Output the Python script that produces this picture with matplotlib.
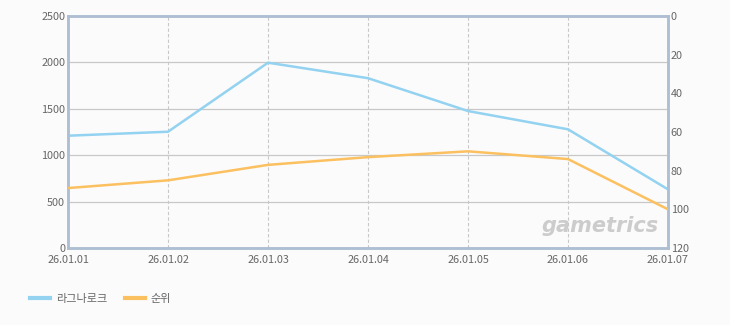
import matplotlib
matplotlib.use("Agg")
import matplotlib.pyplot as plt
from matplotlib.lines import Line2D

plt.rcParams['font.family'] = ['Noto Sans CJK KR', 'DejaVu Sans']

dates = ["26.01.01", "26.01.02", "26.01.03", "26.01.04", "26.01.05", "26.01.06", "26.01.07"]
users = [1210, 1253, 1997, 1830, 1476, 1279, 632]
rank = [89, 85, 77, 73, 70, 74, 100]
left_ticks = [0, 500, 1000, 1500, 2000, 2500]
right_ticks = [0, 20, 40, 60, 80, 100, 120]
series_names = ["라그나로크", "순위"]

bg = "#fbfbfb"
blue = "#93d2f0"
orange = "#fbc060"
frame = "#aebfd3"
txt = "#666666"

fig = plt.figure(figsize=(7.3, 3.25), dpi=100, facecolor=bg)
ax = fig.add_axes([68/730, 1-248/325, 600/730, 232/325])
ax.set_facecolor(bg)
x = list(range(len(dates)))

ax.set_xlim(0, len(dates)-1)
ax.set_ylim(0, 2500)
ax.set_yticks(left_ticks)
ax.set_xticks(x)
ax.set_xticklabels(dates)
ax.yaxis.grid(True, color="#c8c8c8", linewidth=0.9, linestyle="-")
ax.xaxis.grid(True, color="#c8c8c8", linewidth=0.8, linestyle=(0, (3, 2)))
ax.set_axisbelow(True)
ax.tick_params(axis="y", length=0, labelsize=7.8, colors=txt, pad=2)
ax.tick_params(axis="x", length=0, labelsize=7.8, colors=txt, pad=5)
for s in ax.spines.values():
    s.set_color(frame)
    s.set_linewidth(1.8)

ax.plot(x, users, color=blue, linewidth=1.8, zorder=3)

ax2 = ax.twinx()
ax2.set_ylim(120, 0)
ax2.set_yticks(right_ticks)
ax2.tick_params(length=0, labelsize=7.8, colors=txt, pad=2)
for s in ax2.spines.values():
    s.set_color(frame)
    s.set_linewidth(1.8)
ax2.plot(x, rank, color=orange, linewidth=1.8, zorder=3)

ax.text(0.985, 0.05, "gametrics", transform=ax.transAxes, ha="right", va="bottom",
        fontsize=15, fontstyle="italic", fontweight="bold", color="#cccccc",
        family=["DejaVu Sans"], zorder=1)

handles = [Line2D([], [], color=blue, linewidth=3), Line2D([], [], color=orange, linewidth=3)]
fig.legend(handles, series_names, loc="center left", bbox_to_anchor=(20/730, 1-299/325),
           ncol=2, frameon=False, fontsize=8, labelcolor=txt, handlelength=1.8,
           handletextpad=0.5, columnspacing=1.6)

fig.savefig("out.png", dpi=100, facecolor=bg)
